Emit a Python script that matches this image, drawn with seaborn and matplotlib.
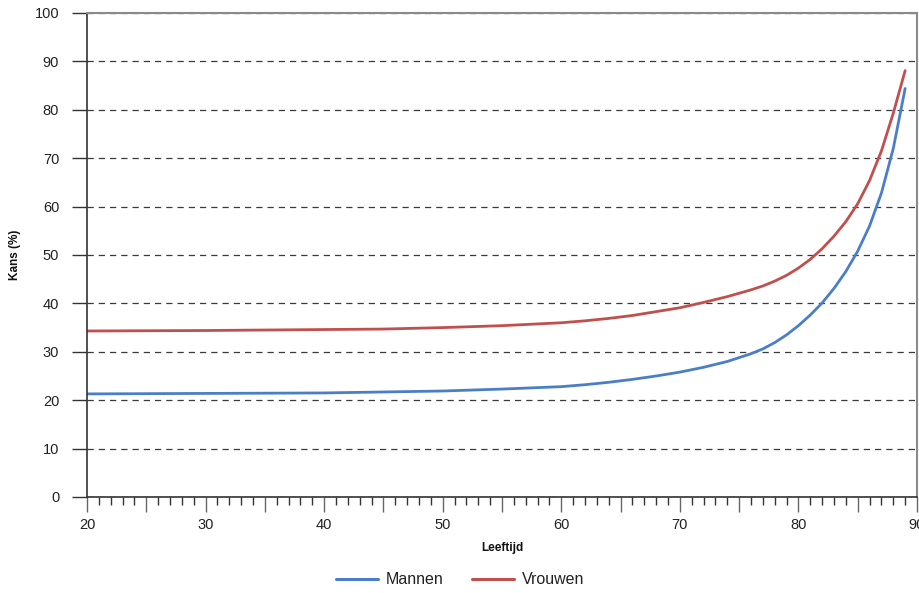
import numpy as np
import pandas as pd
import seaborn as sns
import matplotlib.pyplot as plt
from matplotlib.ticker import MultipleLocator, FixedLocator

ages = [20, 30, 40, 45, 50, 55, 60, 62, 64, 66, 68, 70, 72, 74, 76, 77, 78,
        79, 80, 81, 82, 83, 84, 85, 86, 87, 88, 89]
mannen = [21.3, 21.4, 21.5, 21.7, 21.9, 22.3, 22.8, 23.2, 23.7, 24.3, 25.0,
          25.8, 26.8, 28.0, 29.6, 30.6, 31.9, 33.5, 35.4, 37.6, 40.1, 43.1,
          46.6, 50.8, 56.0, 62.8, 72.0, 84.4]
vrouwen = [34.3, 34.4, 34.6, 34.7, 35.0, 35.4, 36.0, 36.4, 36.9, 37.5, 38.3,
           39.1, 40.2, 41.4, 42.8, 43.6, 44.6, 45.8, 47.3, 49.1, 51.3, 53.9,
           56.9, 60.6, 65.4, 71.5, 79.3, 88.1]
series = ["Mannen", "Vrouwen"]
colors = ["#4a7fc6", "#c0504d"]
yticks = list(range(0, 101, 10))
xticks = list(range(20, 91, 5))

df = pd.DataFrame({
    "Leeftijd": ages * 2,
    "Kans": mannen + vrouwen,
    "groep": [series[0]] * len(ages) + [series[1]] * len(ages),
})

sns.set_style("white")
plt.rcParams['font.family'] = ['Liberation Sans', 'DejaVu Sans']

fig = plt.figure(figsize=(9.2, 5.93), dpi=100)
ax = fig.add_axes([87 / 920, 96 / 593, 830 / 920, 484 / 593])

sns.lineplot(data=df, x="Leeftijd", y="Kans", hue="groep", palette=colors,
             linewidth=2.0, ax=ax, legend=False)

ax.set_xlim(20, 90)
ax.set_ylim(0, 100)
ax.set_yticks(yticks)
ax.yaxis.grid(True, linestyle=(0, (5, 4)), color='#3a3a3a', linewidth=0.9)
ax.set_axisbelow(True)

# x ticks: labels each 10, longer marks each 5, small marks each year
ax.xaxis.set_major_locator(FixedLocator(xticks))
ax.set_xticklabels([str(v) if v % 10 == 0 else "" for v in xticks])
ax.xaxis.set_minor_locator(MultipleLocator(1))
ax.tick_params(axis='x', which='major', direction='out', length=11, width=1,
               color='#666666', labelsize=10.5, labelcolor='#222222', pad=4,
               bottom=True)
ax.tick_params(axis='x', which='minor', direction='out', length=6, width=1,
               color='#333333', bottom=True)
ax.tick_params(axis='y', which='major', direction='out', length=11, width=1,
               color='#333333', labelsize=10.5, labelcolor='#222222', pad=9,
               left=True)

for side in ['left', 'bottom']:
    ax.spines[side].set_color('#333333')
    ax.spines[side].set_linewidth(1.2)
for side in ['top', 'right']:
    ax.spines[side].set_color('#8a8a8a')
    ax.spines[side].set_linewidth(1.5)

ax.set_xlabel("Leeftijd", fontsize=8.5, fontweight='bold', color='#111111')
ax.set_ylabel("Kans (%)", fontsize=8.5, fontweight='bold', color='#111111')
ax.xaxis.set_label_coords(0.5, -0.093)
ax.yaxis.set_label_coords(-0.08, 0.5)

handles = [plt.Line2D([], [], color=c, linewidth=2.2) for c in colors]
fig.legend(handles, series, loc='center', bbox_to_anchor=(0.5, 0.022), ncol=2,
           frameon=False, fontsize=11.5, handlelength=2.6, handletextpad=0.5,
           columnspacing=1.8, labelcolor='#222222')

fig.savefig("out.png", dpi=100)
